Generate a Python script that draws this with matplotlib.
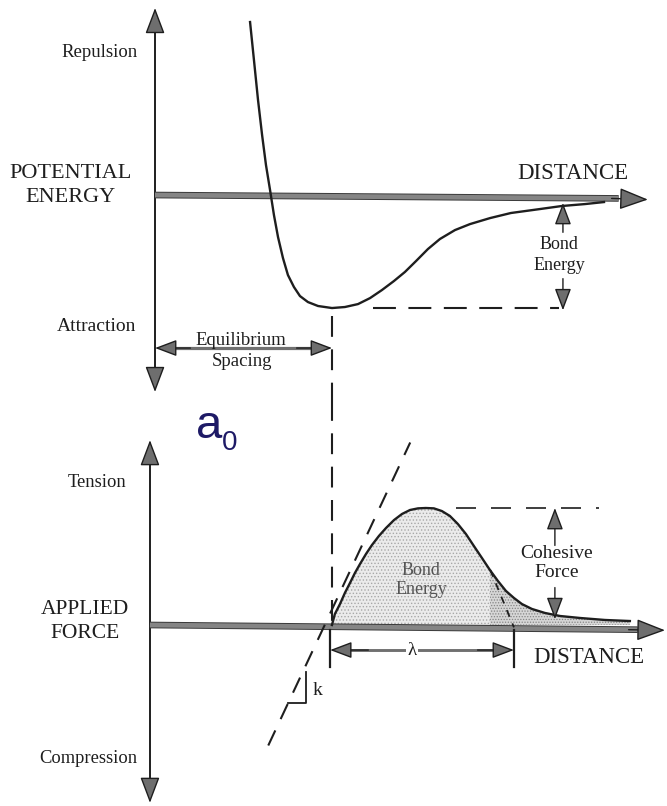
import matplotlib
matplotlib.use('Agg')
import matplotlib.pyplot as plt
import matplotlib.patheffects as pe
import numpy as np

# potential energy vs distance (distance in units of a0, energy in units of bond energy)
energy_dist = [0.537, 0.559, 0.582, 0.605, 0.627, 0.650, 0.672, 0.695, 0.723, 0.751,
               0.785, 0.819, 0.864, 0.921, 1.000, 1.073, 1.147, 1.215, 1.282, 1.350,
               1.412, 1.475, 1.542, 1.610, 1.695, 1.780, 1.893, 2.011, 2.175, 2.299,
               2.429, 2.537]
energy_val = [1.531, 1.195, 0.841, 0.531, 0.265, 0.044, -0.177, -0.372, -0.558, -0.708,
              -0.814, -0.894, -0.947, -0.982, -1.000, -0.991, -0.965, -0.912, -0.841, -0.761,
              -0.681, -0.584, -0.478, -0.389, -0.310, -0.257, -0.204, -0.159, -0.124, -0.097,
              -0.080, -0.062]

# applied force vs distance (force in units of cohesive force)
force_dist = [1.000, 1.016, 1.044, 1.071, 1.099, 1.126, 1.154, 1.187, 1.220, 1.258,
              1.297, 1.341, 1.385, 1.429, 1.473, 1.516, 1.560, 1.604, 1.648, 1.692,
              1.736, 1.780, 1.824, 1.868, 1.912, 1.956, 2.000, 2.044, 2.099, 2.170,
              2.253, 2.363, 2.500, 2.637]
force_val = [0.000, 0.094, 0.179, 0.274, 0.359, 0.444, 0.521, 0.607, 0.684, 0.761,
             0.829, 0.897, 0.949, 0.983, 0.997, 1.000, 0.997, 0.974, 0.932, 0.863,
             0.778, 0.675, 0.573, 0.470, 0.376, 0.291, 0.231, 0.179, 0.137, 0.103,
             0.077, 0.060, 0.043, 0.034]

# tangent at a0 (slope k) and the end of the sine approximation
tangent_dist = [0.65, 1.43]
tangent_force = [-1.03, 1.56]
sine_dist = [1.87, 2.00]
sine_force = [0.47, -0.02]

a0 = 1.0
bond_energy = -1.0
cohesive_force = 1.0
lam_end = 2.0

plt.rcParams['font.family'] = ['Liberation Serif', 'DejaVu Serif']
plt.rcParams['hatch.linewidth'] = 0.6

ink = '#1e1e1e'
axis_gray = '#858585'
head_gray = '#6e6e6e'

fig = plt.figure(figsize=(6.67, 8.06), dpi=100)
top = fig.add_axes([0, 0.5037, 1, 0.4963])
bot = fig.add_axes([0, 0, 1, 0.5037])
top.set_xlim(-0.876, 2.893)
top.set_ylim(-1.814, 1.726)
bot.set_xlim(-0.824, 2.841)
bot.set_ylim(-1.547, 1.923)
for ax in (top, bot):
    ax.axis('off')


def head(ax, tail, tip, scale=18, lw=1.0):
    ax.annotate('', xy=tip, xytext=tail,
                arrowprops=dict(arrowstyle='-|>,head_length=0.9,head_width=0.34',
                                fc=head_gray, ec=ink, lw=lw, mutation_scale=scale,
                                shrinkA=0, shrinkB=0))


thick = [pe.Stroke(linewidth=4.8, foreground='#3a3a3a'), pe.Normal()]

# ---- top panel: potential energy ----
top.plot([0, 0], [-1.70, 1.60], color=ink, lw=1.4)
head(top, (0, 1.45), (0, 1.655))
head(top, (0, -1.55), (0, -1.743))
top.plot([0, 2.62], [0, -0.03], color=axis_gray, lw=3.4, path_effects=thick,
         solid_capstyle='butt')
head(top, (2.58, -0.03), (2.785, -0.04), scale=20)

top.plot(energy_dist, energy_val, color=ink, lw=1.7)

top.plot([1.23, 2.28], [bond_energy, bond_energy], color=ink, lw=1.5, ls=(0, (11, 6)))
top.plot([a0, a0], [-1.07, -1.814], color=ink, lw=1.5, ls=(0, (10, 6)), clip_on=False)

bx = 2.305
head(top, (bx, -0.33), (bx, -0.07), scale=15)
head(top, (bx, -0.74), (bx, -1.02), scale=15)
top.text(bx - 0.02, -0.53, 'Bond\nEnergy', ha='center', va='center', fontsize=13,
         linespacing=1.25, color=ink)

ey = -1.354
top.plot([0.05, 0.95], [ey, ey], color='#707070', lw=2.3)
head(top, (0.2, ey), (0.0, ey), scale=15)
head(top, (0.8, ey), (1.0, ey), scale=15)
top.text(0.486, -1.283, 'Equilibrium', ha='center', va='center', fontsize=13.5, color=ink)
top.text(0.492, -1.469, 'Spacing', ha='center', va='center', fontsize=13.5, color=ink)

top.text(-0.311, 1.257, 'Repulsion', ha='center', va='center', fontsize=13.5, color=ink)
top.text(-0.328, -1.159, 'Attraction', ha='center', va='center', fontsize=14, color=ink)
top.text(-0.48, 0.084, 'POTENTIAL\nENERGY', ha='center', va='center', fontsize=16,
         linespacing=1.32, color=ink)
top.text(2.362, 0.195, 'DISTANCE', ha='center', va='center', fontsize=16.5, color=ink)

# ---- bottom panel: applied force ----
fx = np.array(force_dist)
fv = np.array(force_val)
bot.fill_between(fx, 0, fv, facecolor='#ebebeb', hatch='.....', edgecolor='#a8a8a8', lw=0)
bot.fill_between(fx, 0, fv, where=fx >= 1.86, interpolate=True, facecolor='#d6d6d6',
                 hatch='......', edgecolor='#858585', lw=0)

bot.plot([0, 0], [-1.42, 1.46], color=ink, lw=1.4)
head(bot, (0, 1.38), (0, 1.58))
head(bot, (0, -1.33), (0, -1.52))
bot.plot([0, 2.68], [0, -0.04], color=axis_gray, lw=3.4, path_effects=thick,
         solid_capstyle='butt')
head(bot, (2.63, -0.04), (2.83, -0.045), scale=20)

bot.plot(force_dist, force_val, color=ink, lw=1.7)
bot.plot(tangent_dist, tangent_force, color=ink, lw=1.5, ls=(0, (8, 6)))
bot.plot(sine_dist, sine_force, color=ink, lw=1.3, ls=(0, (4, 4)))

bot.plot([a0, a0], [1.923, 0.03], color=ink, lw=1.5, ls=(0, (10, 6)), clip_on=False)
bot.plot([1.68, 2.47], [cohesive_force, cohesive_force], color=ink, lw=1.2, ls=(0, (12, 9)))

cx = 2.225
head(bot, (cx, 0.68), (cx, 1.0), scale=15)
head(bot, (cx, 0.32), (cx, 0.05), scale=15)
bot.text(cx + 0.01, 0.53, 'Cohesive\nForce', ha='center', va='center', fontsize=14,
         linespacing=1.22, color=ink)
bot.text(1.489, 0.385, 'Bond\nEnergy', ha='center', va='center', fontsize=13,
         linespacing=1.2, color='#555555')

# lambda
bot.plot([0.99, 0.99], [-0.04, -0.36], color=ink, lw=1.6)
bot.plot([lam_end, lam_end], [-0.04, -0.36], color=ink, lw=1.6)
ly = -0.214
bot.plot([1.05, 1.94], [ly, ly], color='#707070', lw=2.1)
head(bot, (1.2, ly), (0.99, ly), scale=15)
head(bot, (1.8, ly), (lam_end, ly), scale=15)
bot.text(1.44, ly, 'λ', ha='center', va='center', fontsize=13.5, color=ink,
         bbox=dict(facecolor='white', edgecolor='none', pad=1))

# k step
bot.plot([0.76, 0.857, 0.857], [-0.667, -0.667, -0.40], color=ink, lw=1.3)
bot.text(0.92, -0.56, 'k', ha='center', va='center', fontsize=14, color=ink)

bot.text(-0.291, 1.222, 'Tension', ha='center', va='center', fontsize=13.4, color=ink)
bot.text(-0.341, -1.145, 'Compression', ha='center', va='center', fontsize=13.3, color=ink)
bot.text(-0.357, 0.03, 'APPLIED\nFORCE', ha='center', va='center', fontsize=15.5,
         linespacing=1.3, color=ink)
bot.text(2.412, -0.282, 'DISTANCE', ha='center', va='center', fontsize=16.5, color=ink)

# a0 label
bot.text(0.253, 1.598, 'a', ha='left', va='baseline', fontsize=34, color='#1e1a66',
         family='Liberation Sans')
bot.text(0.396, 1.496, '0', ha='left', va='baseline', fontsize=20, color='#1e1a66',
         family='Liberation Sans')

fig.savefig('out.png', dpi=100)
